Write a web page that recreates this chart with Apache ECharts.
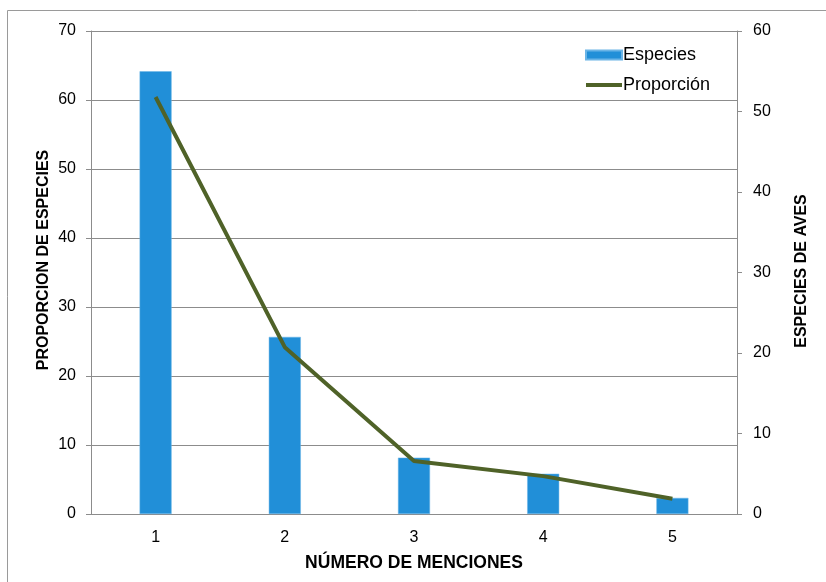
<!DOCTYPE html>
<html><head><meta charset="utf-8">
<script src="https://cdn.jsdelivr.net/npm/echarts@6/dist/echarts.min.js"></script>
<style>html,body{margin:0;padding:0;background:#fff}#c{width:826px;height:582px}</style>
</head><body><div id="c"></div>
<script>
const categories = ['1','2','3','4','5'];
const especies = [55, 22, 7, 5, 2];
const proporcion = [60.44, 24.18, 7.69, 5.49, 2.20];
const leftTicks = {min:0, max:70, interval:10};
const rightTicks = {min:0, max:60, interval:10};
const xTitle = 'NÚMERO DE MENCIONES';
const leftTitle = 'PROPORCION DE ESPECIES';
const rightTitle = 'ESPECIES DE AVES';

const chart = echarts.init(document.getElementById('c'), null, {renderer:'canvas'});
const font = 'Liberation Sans, Arial, sans-serif';
const titleStyle = {fontFamily:font, fontSize:16, fontWeight:'bold', fill:'#000', textAlign:'center', textVerticalAlign:'middle'};
chart.setOption({
  animation:false,
  graphic:[
    {type:'rect', shape:{x:7.5,y:10.5,width:840,height:600}, style:{fill:'none', stroke:'#9a9a9a', lineWidth:1}, silent:true},
    {type:'text', x:44, y:260, rotation:Math.PI/2, style:Object.assign({text:leftTitle}, titleStyle), silent:true},
    {type:'text', x:802, y:271, rotation:Math.PI/2, style:Object.assign({text:rightTitle}, titleStyle), silent:true}
  ],
  grid:{left:91, right:89, top:31, bottom:68},
  legend:{orient:'vertical', left:584, top:46, padding:0, itemGap:12, itemWidth:36, itemHeight:9,
    textStyle:{fontFamily:font, fontSize:18, color:'#000', padding:[0,0,0,-4]},
    data:[{name:'Especies', icon:'rect'}, {name:'Proporción', itemStyle:{opacity:0}, lineStyle:{width:4, color:'#4f6228'}}]},
  xAxis:{type:'category', data:categories,
    axisLine:{lineStyle:{color:'#8c8c8c', width:1}}, axisTick:{show:false},
    axisLabel:{fontFamily:font, fontSize:16, color:'#000', margin:16},
    name:xTitle, nameLocation:'middle', nameGap:40,
    nameTextStyle:{fontFamily:font, fontSize:17.5, fontWeight:'bold', color:'#000'}},
  yAxis:[{type:'value', position:'left', min:leftTicks.min, max:leftTicks.max, interval:leftTicks.interval,
      axisLine:{show:true, lineStyle:{color:'#8c8c8c'}}, axisTick:{show:true, length:5, lineStyle:{color:'#8c8c8c'}},
      splitLine:{show:true, lineStyle:{color:'#8c8c8c', width:1}},
      axisLabel:{fontFamily:font, fontSize:16, color:'#000', margin:15}},
    {type:'value', position:'right', min:rightTicks.min, max:rightTicks.max, interval:rightTicks.interval,
      axisLine:{show:true, lineStyle:{color:'#8c8c8c'}}, axisTick:{show:true, length:5, lineStyle:{color:'#8c8c8c'}},
      splitLine:{show:false},
      axisLabel:{fontFamily:font, fontSize:16, color:'#000', margin:16}}],
  series:[
    {name:'Especies', type:'bar', yAxisIndex:1, data:especies, barWidth:32,
      itemStyle:{color:'#218fd8', borderColor:'#6ab4e6', borderWidth:0.5}, z:2},
    {name:'Proporción', type:'line', yAxisIndex:0, data:proporcion, symbol:'none',
      lineStyle:{color:'#4f6228', width:4}, itemStyle:{color:'#4f6228'}, z:3}
  ]
});
</script></body></html>
